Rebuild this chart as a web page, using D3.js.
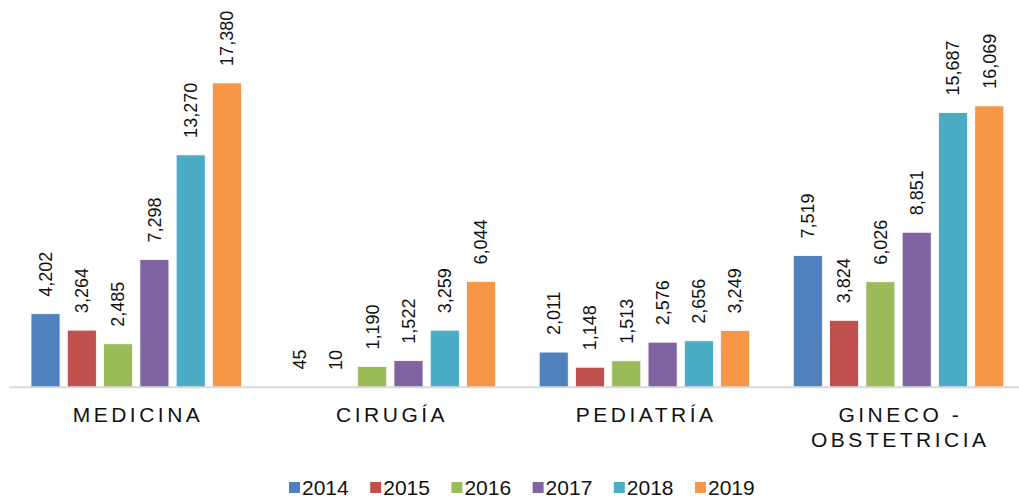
<!DOCTYPE html>
<html>
<head>
<meta charset="utf-8">
<script src="https://cdn.jsdelivr.net/npm/d3@7"></script>
<style>
  body { margin: 0; background: #fff; }
  svg { display: block; font-family: "Liberation Sans", Arial, sans-serif; }
</style>
</head>
<body>
<div id="chart"></div>
<script>
var width = 1019;
var height = 498;

var categories = [["MEDICINA"], ["CIRUGÍA"], ["PEDIATRÍA"], ["GINECO -", "OBSTETRICIA"]];
var catKeys = ["MEDICINA", "CIRUGIA", "PEDIATRIA", "GINECO"];
var years = ["2014", "2015", "2016", "2017", "2018", "2019"];
var colors = ["#4F81BD", "#C0504D", "#9BBB59", "#8064A2", "#4BACC6", "#F79646"];

// one array per year, in category order
var v2014 = [4202, 45, 2011, 7519];
var v2015 = [3264, 10, 1148, 3824];
var v2016 = [2485, 1190, 1513, 6026];
var v2017 = [7298, 1522, 2576, 8851];
var v2018 = [13270, 3259, 2656, 15687];
var v2019 = [17380, 6044, 3249, 16069];
var series = [v2014, v2015, v2016, v2017, v2018, v2019];

var svg = d3.select("#chart").append("svg")
  .attr("width", width)
  .attr("height", height);

var x0 = d3.scaleBand()
  .domain(catKeys)
  .range([9.2, 1025.6]);

var x1 = d3.scaleBand()
  .domain(years)
  .range([21.8, x0.bandwidth() - 21.8])
  .paddingInner(0.2)
  .paddingOuter(0);

var y = d3.scaleLinear()
  .domain([0, 20000])
  .range([387.3, 37]);

var color = d3.scaleOrdinal().domain(years).range(colors);

// flatten into bar records
var bars = [];
years.forEach(function(yr, i) {
  catKeys.forEach(function(c, j) {
    bars.push({ year: yr, cat: c, value: series[i][j] });
  });
});

svg.append("g").selectAll("rect")
  .data(bars)
  .enter()
  .append("rect")
  .attr("x", function(d) { return x0(d.cat) + x1(d.year); })
  .attr("y", function(d) { return y(d.value); })
  .attr("width", x1.bandwidth())
  .attr("height", function(d) { return y(0) - y(d.value); })
  .attr("fill", function(d) { return color(d.year); })
  .attr("stroke", "#fff")
  .attr("stroke-width", 0.8);

// axis line
svg.append("line")
  .attr("x1", x0.range()[0])
  .attr("x2", x0.range()[1])
  .attr("y1", y(0))
  .attr("y2", y(0))
  .attr("stroke", "#D9D9D9")
  .attr("stroke-width", 2);

// value labels, rotated
var fmt = d3.format(",");
svg.append("g").selectAll("text")
  .data(bars)
  .enter()
  .append("text")
  .attr("transform", function(d) {
    var cx = x0(d.cat) + x1(d.year) + x1.bandwidth() / 2;
    return "translate(" + cx + "," + (y(d.value) - 17) + ") rotate(-90)";
  })
  .attr("dy", "0.35em")
  .attr("font-size", 18)
  .attr("fill", "#111")
  .text(function(d) { return fmt(d.value); });

// category labels
var catG = svg.append("g").selectAll("text")
  .data(catKeys)
  .enter()
  .append("text")
  .attr("text-anchor", "middle")
  .attr("font-size", 21)
  .attr("letter-spacing", 3.5)
  .attr("fill", "#111")
  .attr("x", function(d) { return x0(d) + x0.bandwidth() / 2 + 1.75; })
  .attr("y", 421.5);

catG.selectAll("tspan")
  .data(function(d, i) { return categories[i]; })
  .enter()
  .append("tspan")
  .attr("x", function() { return d3.select(this.parentNode).attr("x"); })
  .attr("dy", function(d, i) { return i === 0 ? 0 : 25; })
  .text(function(d) { return d; });

// legend
var legend = svg.append("g")
  .attr("transform", "translate(289, 0)");

var item = legend.selectAll("g")
  .data(years)
  .enter()
  .append("g")
  .attr("transform", function(d, i) { return "translate(" + (i * 81.2) + ",0)"; });

item.append("rect")
  .attr("x", 0)
  .attr("y", 482)
  .attr("width", 11)
  .attr("height", 11)
  .attr("fill", function(d) { return color(d); });

item.append("text")
  .attr("x", 13)
  .attr("y", 494.5)
  .attr("font-size", 21)
  .attr("fill", "#111")
  .text(function(d) { return d; });
</script>
</body>
</html>
